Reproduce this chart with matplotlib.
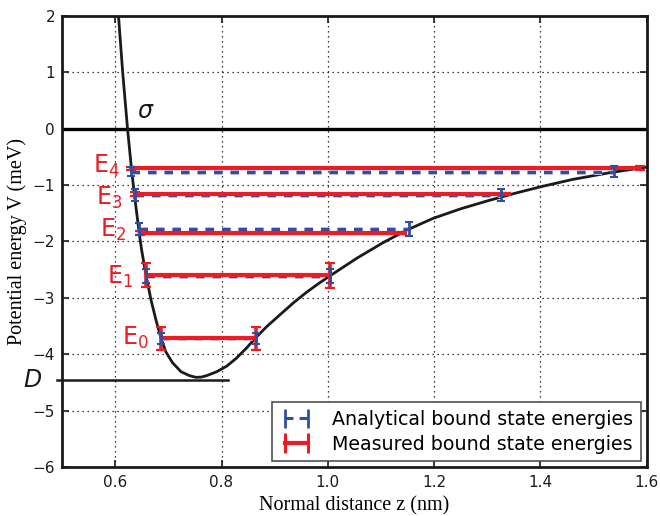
import matplotlib
matplotlib.use("Agg")
import matplotlib.pyplot as plt
import matplotlib.patheffects as pe

# ---------------- data ----------------
# potential curve V(z)
curve_z = [0.6062, 0.6141, 0.6232, 0.6305, 0.6360, 0.6452, 0.6497, 0.6578, 0.6672,
           0.6766, 0.6860, 0.6954, 0.7078, 0.7238, 0.7398, 0.752, 0.762, 0.772,
           0.791, 0.810, 0.828, 0.847, 0.863, 0.885, 0.910, 0.935, 0.960, 0.985,
           1.004, 1.054, 1.104, 1.148, 1.198, 1.25, 1.30, 1.35, 1.40, 1.46,
           1.53, 1.60]
curve_V = [2.0, 1.0, 0.0, -0.70, -1.16, -1.85, -2.15, -2.59, -3.03,
           -3.39, -3.71, -3.96, -4.15, -4.31, -4.38, -4.41, -4.405, -4.38,
           -4.31, -4.21, -4.07, -3.89, -3.72, -3.51, -3.30, -3.09, -2.90, -2.73,
           -2.61, -2.30, -2.02, -1.80, -1.59, -1.42, -1.28, -1.15, -1.03, -0.90,
           -0.78, -0.68]

level_names = ["0", "1", "2", "3", "4"]

measured_E = [-3.72, -2.60, -1.85, -1.16, -0.70]
measured_zl = [0.686, 0.658, 0.646, 0.637, 0.629]
measured_zr = [0.865, 1.004, 1.140, 1.336, 1.588]
measured_err_l = [0.21, 0.215, 0.03, 0.03, 0.025]
measured_err_r = [0.21, 0.22, 0.02, 0.02, 0.035]

analytic_E = [-3.72, -2.61, -1.78, -1.18, -0.76]
analytic_zl = [0.686, 0.658, 0.644, 0.637, 0.629]
analytic_zr = [0.865, 1.004, 1.152, 1.326, 1.538]
analytic_err_l = [0.10, 0.12, 0.11, 0.11, 0.08]
analytic_err_r = [0.10, 0.12, 0.125, 0.11, 0.10]

well_depth = -4.45
x_ticks = [0.6, 0.8, 1.0, 1.2, 1.4, 1.6]
y_ticks = [-6, -5, -4, -3, -2, -1, 0, 1, 2]

# ---------------- styling ----------------
RED = "#ec1c24"
BLUE = "#2f4fa2"
HALO = "#b8c4e6"

plt.rcParams["font.family"] = ["DejaVu Sans"]
plt.rcParams["mathtext.fontset"] = "dejavusans"

fig = plt.figure(figsize=(6.6, 5.16), dpi=100)
ax = fig.add_axes([0.094, 0.095, 0.886, 0.874])

ax.set_xlim(0.5, 1.6)
ax.set_ylim(-6, 2)

# grid
ax.grid(True, color="black", linestyle=(0, (1, 3)), linewidth=0.9)
ax.set_axisbelow(True)

# zero line
ax.axhline(0, color="black", lw=2.4, zorder=2)

# potential curve
ax.plot(curve_z, curve_V, color="#1a1a1a", lw=2.0, zorder=2.5,
        solid_joinstyle="round")

# depth line D
ax.plot([-0.008, 0.283], [well_depth, well_depth], color="#1a1a1a", lw=1.8,
        transform=ax.get_yaxis_transform(), clip_on=False, zorder=3)
ax.text(-0.05, well_depth, "$D$", transform=ax.get_yaxis_transform(),
        ha="center", va="center", fontsize=17, color="#1a1a1a")

# sigma label
ax.text(0.641, 0.1, r"$\sigma$", fontsize=17, ha="left", va="bottom", color="#1a1a1a")

# analytical (blue dashed) levels
for i in range(len(analytic_E)):
    xs = [analytic_zl[i], analytic_zr[i]]
    ys = [analytic_E[i], analytic_E[i]]
    ax.plot(xs, ys, color=BLUE, lw=2.2, linestyle=(0, (2.8, 2.6)), zorder=2.8,
            path_effects=[pe.Stroke(linewidth=3.6, foreground=HALO), pe.Normal()])
    ax.errorbar(xs, ys, yerr=[analytic_err_l[i], analytic_err_r[i]],
                fmt="none", ecolor=BLUE, elinewidth=2.0, capsize=3.2,
                capthick=1.5, zorder=4.2)

# measured (red) levels
for i in range(len(measured_E)):
    xs = [measured_zl[i], measured_zr[i]]
    ys = [measured_E[i], measured_E[i]]
    ax.plot(xs, ys, color=RED, lw=3.0, zorder=3.2, solid_capstyle="butt")
    ax.errorbar(xs, ys, yerr=[measured_err_l[i], measured_err_r[i]],
                fmt="none", ecolor=RED, elinewidth=2.6, capsize=3.8,
                capthick=1.6, zorder=4.0)

# level labels
label_dx = [-12, -13, -14, -13, -11]
label_dy = [-6, -8, -4, -11, -5]
for i, name in enumerate(level_names):
    ax.annotate(r"$\mathregular{E_{%s}}$" % name,
                xy=(measured_zl[i], measured_E[i]),
                xytext=(label_dx[i], label_dy[i]), textcoords="offset pixels",
                ha="right", va="baseline", fontsize=17, color=RED)

# legend proxies
h_an = ax.errorbar([], [], yerr=[], color=BLUE, lw=2.2, linestyle=(0, (2.6, 2.0)),
                   ecolor=BLUE, elinewidth=2.0, capsize=3.2, capthick=1.5)
h_me = ax.errorbar([], [], yerr=[], color=RED, lw=3.0,
                   ecolor=RED, elinewidth=2.2, capsize=3.8, capthick=1.6)
leg = ax.legend([h_an, h_me],
                ["Analytical bound state energies", "Measured bound state energies"],
                loc="lower right", fontsize=13.7, numpoints=2, fancybox=False,
                handlelength=1.8, handletextpad=1.0, borderpad=0.4,
                labelspacing=0.3, borderaxespad=0.3, framealpha=1.0)
leg.get_frame().set_edgecolor("#505050")
leg.get_frame().set_linewidth(1.2)
leg.set_zorder(10)

# axes styling
ax.set_xticks(x_ticks)
ax.set_xticklabels(["%.1f" % v for v in x_ticks])
ax.set_yticks(y_ticks)
ax.tick_params(direction="in", length=5, width=1.2, top=True, right=True,
               labelsize=11, pad=6, colors="#1a1a1a")
ax.tick_params(axis="y", pad=5)
for s in ax.spines.values():
    s.set_linewidth(2.0)
    s.set_color("#1a1a1a")

ax.set_xlabel("Normal distance z (nm)", family="Liberation Serif", fontsize=14.5,
              labelpad=4)
ax.set_ylabel("Potential energy V (meV)", family="Liberation Serif", fontsize=14.5)
ax.yaxis.set_label_coords(-0.06, 0.5)

fig.savefig("out.png", dpi=100, facecolor="white")
